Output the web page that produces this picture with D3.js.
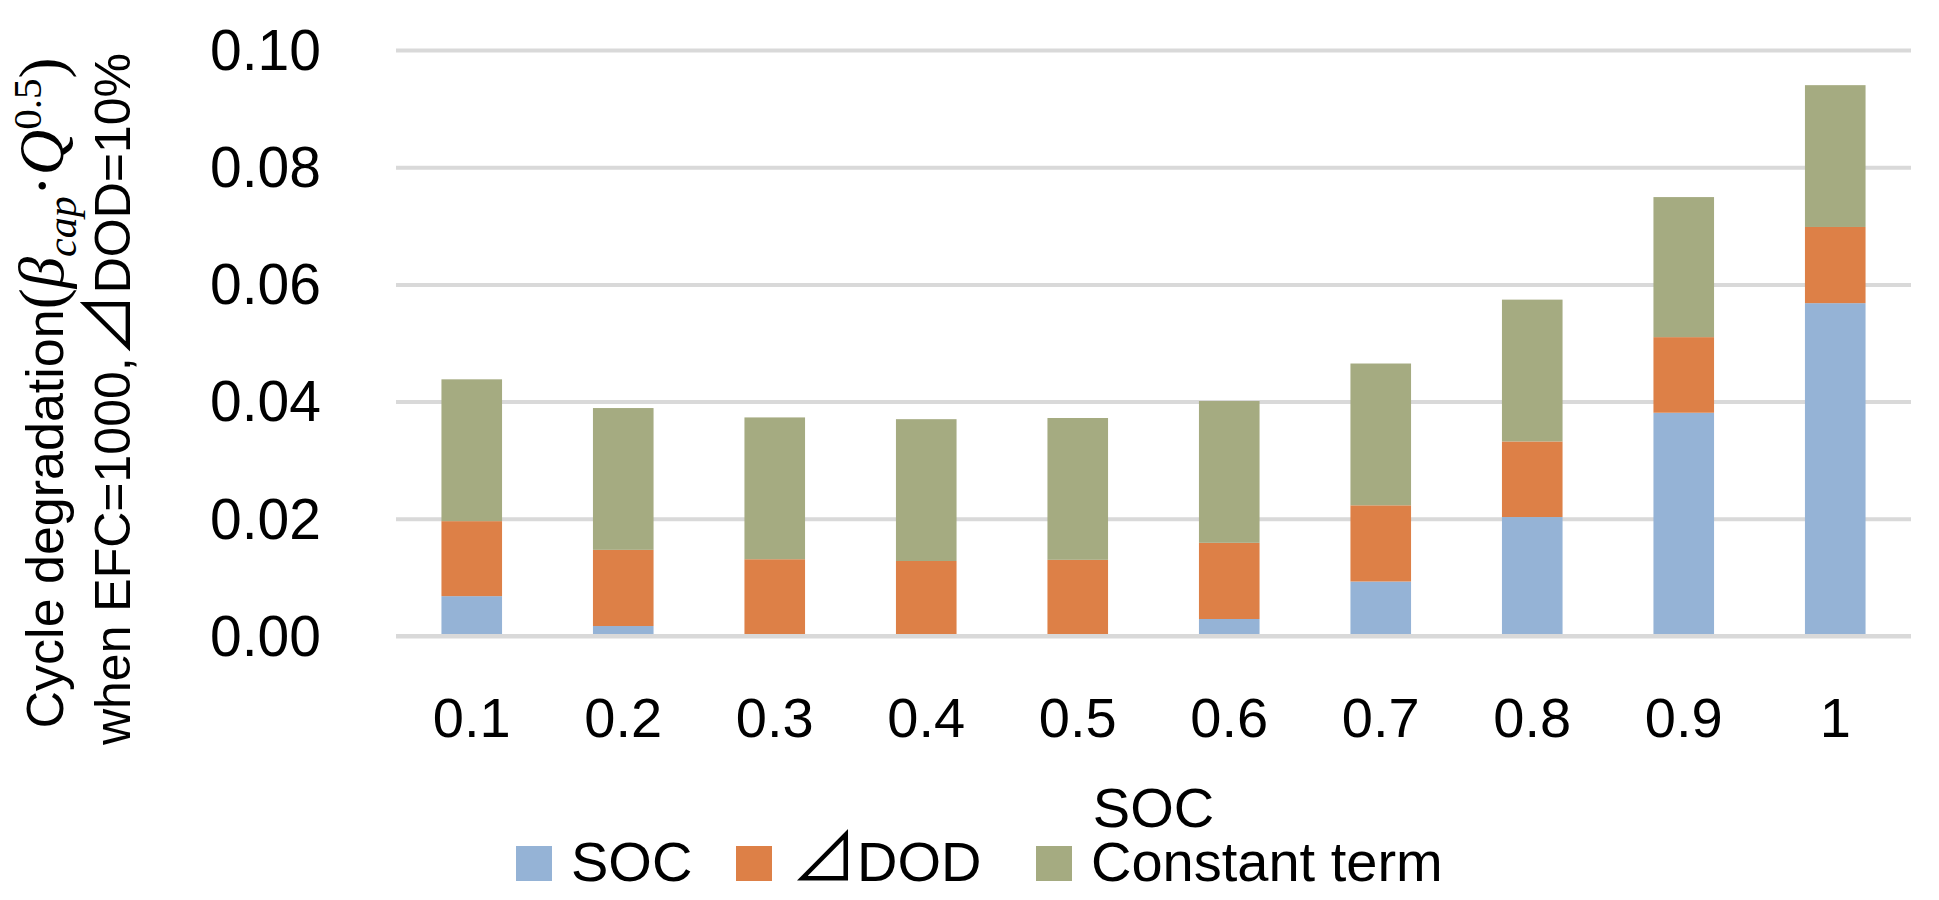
<!DOCTYPE html>
<html>
<head>
<meta charset="utf-8">
<script src="https://cdn.jsdelivr.net/npm/d3@7"></script>
<style>
  body { margin: 0; background: #ffffff; }
  text { font-family: "Liberation Sans", Arial, sans-serif; fill: #000000; }
</style>
</head>
<body>
<div id="chart"></div>
<script>
// values, one entry per SOC level
var socLevels = ["0.1", "0.2", "0.3", "0.4", "0.5", "0.6", "0.7", "0.8", "0.9", "1"];
var socPart   = [0.0068, 0.0017, 0, 0, 0, 0.0029, 0.0093, 0.0203, 0.0381, 0.0568];
var dodPart   = [0.0128, 0.0130, 0.0131, 0.0128, 0.0130, 0.0130, 0.0130, 0.0129, 0.0129, 0.0130];
var constPart = [0.0242, 0.0242, 0.0242, 0.0242, 0.0242, 0.0242, 0.0242, 0.0242, 0.0239, 0.0242];
var seriesKeys  = ["soc", "dod", "constant"];
var seriesNames = ["SOC", "\u22BFDOD", "Constant term"];
var yTicks = [0, 0.02, 0.04, 0.06, 0.08, 0.10];

function drawChart() {
    var width = 1939, height = 900;
    var left = 396, right = 1911, top = 50, bottom = 636;
    var colors = ["#95b3d6", "#dd8047", "#a5ab81"];
    var serif = "'Liberation Serif', 'Times New Roman', serif";
    var cjk = "'Noto Sans CJK JP', 'DejaVu Sans', sans-serif";

    var svg = d3.select("#chart")
        .append("svg")
        .attr("width", width)
        .attr("height", height);

    var rows = socLevels.map(function(level, i) {
        return { level: level, soc: socPart[i], dod: dodPart[i], constant: constPart[i] };
    });
    var stacked = d3.stack().keys(seriesKeys)(rows);

    var x = d3.scaleBand()
        .domain(socLevels)
        .range([left, right])
        .paddingInner(0.6)
        .paddingOuter(0.3);

    var y = d3.scaleLinear()
        .domain([0, 0.1])
        .range([bottom, top]);

    // gridlines behind the bars
    svg.append("g")
        .attr("transform", "translate(" + left + ",0)")
        .call(d3.axisLeft(y).tickValues(yTicks).tickSize(-(right - left)).tickFormat(""))
        .call(function(g) {
            g.select(".domain").remove();
            g.selectAll("line").attr("stroke", "#d9d9d9").attr("stroke-width", 4);
        });

    svg.append("g")
        .selectAll("g")
        .data(stacked)
        .enter()
        .append("g")
        .attr("fill", function(d, i) { return colors[i]; })
        .selectAll("rect")
        .data(function(d) { return d; })
        .enter()
        .append("rect")
        .attr("x", function(d) { return x(d.data.level); })
        .attr("width", x.bandwidth())
        .attr("y", function(d) { return y(d[1]); })
        .attr("height", function(d) { return y(d[0]) - y(d[1]); });

    // category axis line drawn over the bar bottoms
    svg.append("line")
        .attr("x1", left).attr("x2", right)
        .attr("y1", y(0)).attr("y2", y(0))
        .attr("stroke", "#d9d9d9")
        .attr("stroke-width", 4);

    // y tick labels
    svg.append("g")
        .attr("transform", "translate(" + left + ",0)")
        .call(d3.axisLeft(y).tickValues(yTicks).tickSize(0).tickPadding(75).tickFormat(d3.format(".2f")))
        .call(function(g) {
            g.select(".domain").remove();
            g.selectAll("text")
                .attr("dy", "0.34em")
                .style("font-size", "57px")
                .style("font-family", "'Liberation Sans', Arial, sans-serif");
        });

    // x tick labels
    svg.append("g")
        .attr("transform", "translate(0," + bottom + ")")
        .call(d3.axisBottom(x).tickSize(0).tickPadding(61))
        .call(function(g) {
            g.select(".domain").remove();
            g.selectAll("text")
                .style("font-size", "56px")
                .style("font-family", "'Liberation Sans', Arial, sans-serif");
        });

    // x axis title
    svg.append("text")
        .attr("x", (left + right) / 2)
        .attr("y", 827)
        .attr("text-anchor", "middle")
        .style("font-size", "56px")
        .text("SOC");

    // y axis title, two lines
    var t1 = svg.append("text")
        .attr("transform", "translate(63,393) rotate(-90)")
        .attr("text-anchor", "middle")
        .style("font-size", "52px");
    t1.append("tspan").text("Cycle degradation");
    t1.append("tspan").style("font-family", serif).style("font-size", "63px").text("(");
    t1.append("tspan").style("font-family", serif).style("font-style", "italic")
        .style("font-size", "63px").text("\u03B2");
    t1.append("tspan").style("font-family", serif).style("font-style", "italic")
        .style("font-size", "42px").attr("dy", "13").text("cap");
    t1.append("tspan").style("font-family", serif).style("font-size", "63px")
        .attr("dy", "-13").text("\u00B7");
    t1.append("tspan").style("font-family", serif).style("font-style", "italic")
        .style("font-size", "63px").text("Q");
    t1.append("tspan").style("font-family", serif)
        .style("font-size", "41px").attr("dy", "-22").text("0.5");
    t1.append("tspan").style("font-family", serif).style("font-size", "63px")
        .attr("dy", "22").text(")");

    var t2 = svg.append("text")
        .attr("transform", "translate(130,399) rotate(-90)")
        .attr("text-anchor", "middle")
        .style("font-size", "50px");
    t2.append("tspan").text("when EFC=1000,");
    t2.append("tspan").style("font-family", cjk).style("font-size", "64px").text("\u22BF");
    t2.append("tspan").text("DOD=10%");

    // legend
    var legendX = [516, 736, 1036];
    var legend = svg.append("g")
        .selectAll("g")
        .data(seriesNames)
        .enter()
        .append("g")
        .attr("transform", function(d, i) { return "translate(" + legendX[i] + ",846)"; });

    legend.append("rect")
        .attr("width", 36)
        .attr("height", 35)
        .attr("fill", function(d, i) { return colors[i]; });

    legend.append("text")
        .attr("x", 55)
        .attr("y", 35)
        .style("font-size", "56px")
        .each(function(d) {
            var el = d3.select(this);
            if (d.charAt(0) === "\u22BF") {
                el.append("tspan")
                    .style("font-family", cjk)
                    .style("font-size", "66px")
                    .text(d.charAt(0));
                el.append("tspan").text(d.slice(1));
            } else {
                el.text(d);
            }
        });
}

drawChart();
</script>
</body>
</html>
